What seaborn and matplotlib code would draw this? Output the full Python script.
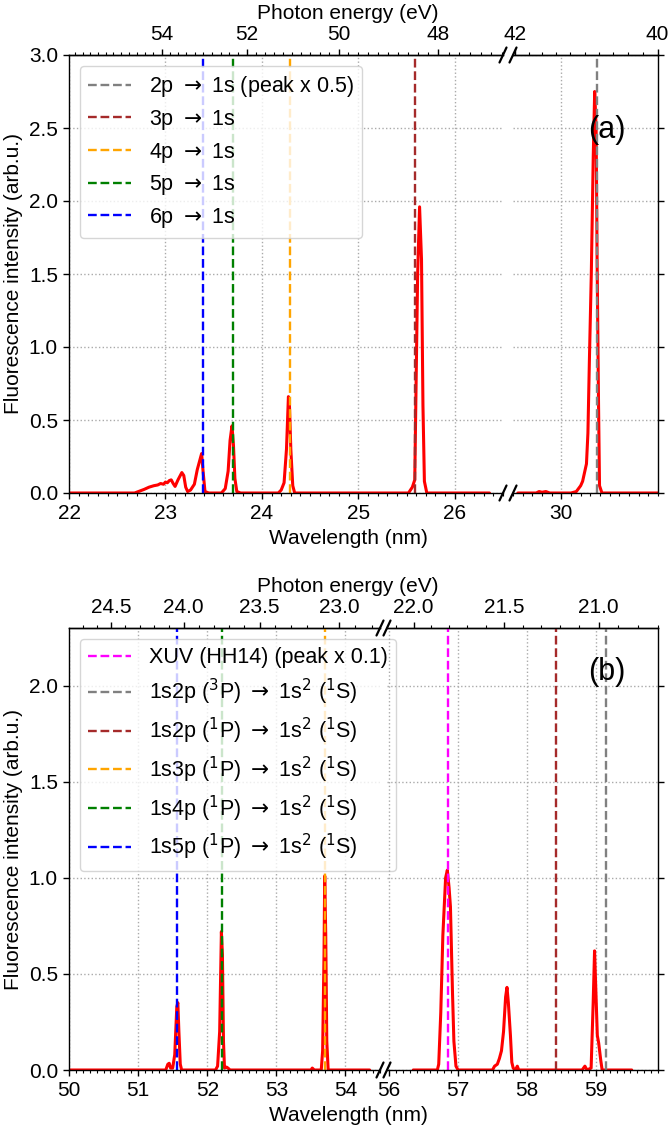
import numpy as np
import matplotlib
matplotlib.use("Agg")
import matplotlib.pyplot as plt
import seaborn as sns
from matplotlib.ticker import MultipleLocator, FixedLocator

HC = 1239.84  # eV*nm

# ---------------- panel (a) data ----------------
a_wl_left = [22.00, 22.68, 22.72, 22.78, 22.83, 22.88, 22.92, 22.95, 22.98, 23.00,
             23.02, 23.04, 23.06, 23.08, 23.10, 23.13, 23.17, 23.19, 23.21, 23.23,
             23.26, 23.30, 23.33, 23.375, 23.39, 23.41, 23.45, 23.58, 23.62, 23.65,
             23.67, 23.69, 23.705, 23.72, 23.74, 23.78, 24.17, 24.20, 24.23, 24.255,
             24.275, 24.285, 24.30, 24.32, 24.34, 25.52, 25.56, 25.585, 25.60, 25.615,
             25.635, 25.655, 25.67, 25.685, 25.71, 26.36]
a_int_left = [0.00, 0.00, 0.01, 0.025, 0.04, 0.05, 0.055, 0.065, 0.06, 0.075,
              0.07, 0.085, 0.09, 0.065, 0.045, 0.09, 0.14, 0.12, 0.04, 0.01,
              0.02, 0.06, 0.16, 0.27, 0.15, 0.01, 0.00, 0.00, 0.03, 0.15,
              0.36, 0.46, 0.33, 0.10, 0.01, 0.00, 0.00, 0.02, 0.07, 0.30,
              0.66, 0.62, 0.30, 0.05, 0.00, 0.00, 0.04, 0.09, 0.80, 1.50,
              1.96, 1.60, 0.60, 0.08, 0.00, 0.00]
a_wl_right = [29.55, 29.74, 29.77, 29.80, 29.84, 29.88, 30.10, 30.155, 30.20, 30.22,
              30.26, 30.275, 30.29, 30.31, 30.33, 30.345, 30.36, 30.37, 30.385, 30.395,
              30.42, 31.00]
a_int_right = [0.00, 0.00, 0.01, 0.005, 0.01, 0.00, 0.00, 0.01, 0.05, 0.08,
               0.20, 0.41, 0.90, 1.50, 2.30, 2.75, 2.50, 1.60, 0.60, 0.05,
               0.00, 0.00]
a_line_wl = [30.37, 25.59, 24.29, 23.70, 23.39]
a_line_colors = ["grey", "brown", "orange", "green", "blue"]
a_line_labels = [r"2p $\rightarrow$ 1s (peak x 0.5)", r"3p $\rightarrow$ 1s",
                 r"4p $\rightarrow$ 1s", r"5p $\rightarrow$ 1s", r"6p $\rightarrow$ 1s"]
a_xlim_left = (22.0, 26.5)
a_xlim_right = (29.5, 31.0)
a_ylim = (0.0, 3.0)
a_top_ticks_left = [54, 52, 50, 48]
a_top_ticks_right = [42, 40]
a_bottom_ticks_right = [30]

# ---------------- panel (b) data ----------------
b_wl_left = [50.00, 51.40, 51.43, 51.45, 51.47, 51.50, 51.53, 51.56, 51.575, 51.59,
             51.61, 51.63, 52.12, 52.15, 52.18, 52.205, 52.22, 52.235, 52.25, 52.28,
             52.30, 52.33, 53.50, 53.52, 53.55, 53.65, 53.67, 53.69, 53.70, 53.715,
             53.73, 53.75, 54.35]
b_int_left = [0.00, 0.00, 0.03, 0.035, 0.01, 0.01, 0.08, 0.33, 0.35, 0.20,
              0.03, 0.00, 0.00, 0.02, 0.20, 0.72, 0.60, 0.15, 0.01, 0.015,
              0.01, 0.00, 0.00, 0.01, 0.00, 0.00, 0.10, 0.60, 1.01, 0.70,
              0.15, 0.00, 0.00]
b_wl_right = [56.35, 56.70, 56.72, 56.75, 56.78, 56.82, 56.845, 56.87, 56.89, 56.92,
              56.94, 56.97, 57.00, 57.50, 57.53, 57.57, 57.60, 57.63, 57.66, 57.69,
              57.71, 57.73, 57.76, 57.78, 57.80, 57.83, 57.86, 57.88, 58.80, 58.84,
              58.87, 58.93, 58.96, 58.98, 59.00, 59.02, 59.04, 59.07, 59.09, 59.52]
b_int_right = [0.00, 0.00, 0.03, 0.30, 0.70, 1.00, 1.04, 0.95, 0.85, 0.40,
               0.15, 0.02, 0.00, 0.00, 0.02, 0.03, 0.06, 0.10, 0.20, 0.38,
               0.43, 0.35, 0.18, 0.04, 0.01, 0.00, 0.02, 0.00, 0.00, 0.02,
               0.00, 0.01, 0.35, 0.62, 0.40, 0.18, 0.14, 0.05, 0.00, 0.00]
b_line_wl = [56.855, 59.14, 58.42, 53.70, 52.22, 51.56]
b_line_colors = ["magenta", "grey", "brown", "orange", "green", "blue"]
b_line_labels = [r"XUV (HH14) (peak x 0.1)",
                 r"1s2p ($^3$P) $\rightarrow$ 1s$^2$ ($^1$S)",
                 r"1s2p ($^1$P) $\rightarrow$ 1s$^2$ ($^1$S)",
                 r"1s3p ($^1$P) $\rightarrow$ 1s$^2$ ($^1$S)",
                 r"1s4p ($^1$P) $\rightarrow$ 1s$^2$ ($^1$S)",
                 r"1s5p ($^1$P) $\rightarrow$ 1s$^2$ ($^1$S)"]
b_xlim_left = (50.0, 54.5)
b_xlim_right = (55.97, 59.9)
b_ylim = (0.0, 2.3)
b_top_ticks_left = [24.5, 24.0, 23.5, 23.0]
b_top_ticks_right = [22.0, 21.5, 21.0]
b_bottom_ticks_right = [56, 57, 58, 59]

# ---------------- style ----------------
sns.set_style("ticks")
plt.rcParams["font.family"] = ["Liberation Sans", "DejaVu Sans"]
plt.rcParams["font.size"] = 15
plt.rcParams["mathtext.fontset"] = "dejavusans"
for k in ["axes.edgecolor", "xtick.color", "ytick.color", "text.color", "axes.labelcolor"]:
    plt.rcParams[k] = "black"
plt.rcParams["axes.linewidth"] = 1.0
plt.rcParams["xtick.major.size"] = 4.5
plt.rcParams["ytick.major.size"] = 4.5
plt.rcParams["xtick.minor.size"] = 2.5
plt.rcParams["xtick.major.width"] = 1.0
plt.rcParams["ytick.major.width"] = 1.0
plt.rcParams["xtick.minor.width"] = 0.8

W, H = 669, 1129
fig = plt.figure(figsize=(W / 100, H / 100), dpi=100)


def nm2ev(x):
    x = np.asarray(x, dtype=float)
    with np.errstate(divide="ignore", invalid="ignore"):
        return HC / x


def px_axes(x0, x1, y0, y1):
    return fig.add_axes([x0 / W, 1 - y1 / H, (x1 - x0) / W, (y1 - y0) / H])


def break_marks(ax, xpos):
    bb = ax.get_position()
    dx = 3.5 / (bb.width * W)
    dy = 7.5 / (bb.height * H)
    for y in (0.0, 1.0):
        ax.plot([xpos - dx, xpos + dx], [y - dy, y + dy], transform=ax.transAxes,
                color="black", lw=1.6, clip_on=False, zorder=10)


def panel(top, bot, lx, gap0, gap1, rx, wl_l, in_l, wl_r, in_r, xlim_l, xlim_r, ylim,
          line_wl, line_col, line_lab, top_ticks_l, top_ticks_r, top_minor,
          bottom_ticks_r, label_px, tag, tag_xy):
    ax_l = px_axes(lx, gap0, top, bot)
    ax_r = px_axes(gap1, rx, top, bot)
    ax_r.patch.set_alpha(0)

    sns.lineplot(x=wl_l, y=in_l, ax=ax_l, color="red", lw=2.2, sort=False)
    sns.lineplot(x=wl_r, y=in_r, ax=ax_r, color="red", lw=2.2, sort=False)

    handles = []
    for wl, c, lab in zip(line_wl, line_col, line_lab):
        target = ax_l if xlim_l[0] <= wl <= xlim_l[1] else ax_r
        h = target.axvline(wl, color=c, ls="--", lw=1.7, label=lab)
        handles.append(h)

    for ax, xl, tt in ((ax_l, xlim_l, top_ticks_l), (ax_r, xlim_r, top_ticks_r)):
        ax.set_xlim(*xl)
        ax.set_ylim(*ylim)
        ax.yaxis.set_major_locator(MultipleLocator(0.5))
        ax.xaxis.set_minor_locator(MultipleLocator(0.1))
        ax.grid(True, which="major", ls=":", color="#aaaaaa", lw=1.0)
        ax.set_xlabel("")
        ax.set_ylabel("")
        sec = ax.secondary_xaxis("top", functions=(nm2ev, nm2ev))
        sec.xaxis.set_major_locator(FixedLocator(tt))
        sec.xaxis.set_minor_locator(MultipleLocator(top_minor))
        ax.sec = sec

    ax_l.xaxis.set_major_locator(MultipleLocator(1))
    ax_r.xaxis.set_major_locator(FixedLocator(bottom_ticks_r))
    ax_l.spines["right"].set_visible(False)
    ax_r.spines["left"].set_visible(False)
    ax_r.yaxis.tick_right()
    ax_r.tick_params(axis="y", labelright=False)

    ax_l.set_ylabel("Fluorescence intensity (arb.u.)")
    fx = (label_px - lx) / (gap0 - lx)
    ax_l.set_xlabel("Wavelength (nm)")
    ax_l.xaxis.label.set_x(fx)
    ax_l.sec.set_xlabel("Photon energy (eV)")
    ax_l.sec.xaxis.label.set_x(fx)

    break_marks(ax_l, 1.0)
    break_marks(ax_r, 0.0)

    ax_l.legend(handles=handles, loc="upper left", fontsize=15.5, labelspacing=0.4)
    fig.text(tag_xy[0] / W, 1 - tag_xy[1] / H, tag, fontsize=22, ha="center", va="center")
    return ax_l, ax_r


panel(55, 493, 69, 503, 513, 658, a_wl_left, a_int_left, a_wl_right, a_int_right,
      a_xlim_left, a_xlim_right, a_ylim, a_line_wl, a_line_colors, a_line_labels,
      a_top_ticks_left, a_top_ticks_right, 0.2, a_bottom_ticks_right, 348, "(a)", (607, 130))

panel(628, 1070, 69, 380, 387, 658, b_wl_left, b_int_left, b_wl_right, b_int_right,
      b_xlim_left, b_xlim_right, b_ylim, b_line_wl, b_line_colors, b_line_labels,
      b_top_ticks_left, b_top_ticks_right, 0.1, b_bottom_ticks_right, 348, "(b)", (607, 672))

fig.savefig("out.png", dpi=100)
